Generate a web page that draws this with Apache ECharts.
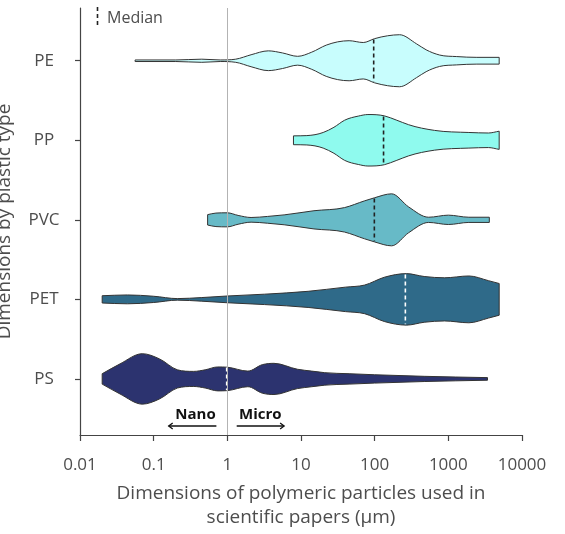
<!DOCTYPE html>
<html><head><meta charset="utf-8">
<script src="https://cdn.jsdelivr.net/npm/echarts@6/dist/echarts.min.js"></script>
<style>html,body{margin:0;padding:0;background:#fff}#c{width:565px;height:534px}</style>
</head><body><div id="c"></div>
<script>
// ---- data ----
const categories = ['PS', 'PET', 'PVC', 'PP', 'PE']; // bottom to top
const xTickValues = [0.01, 0.1, 1, 10, 100, 1000, 10000];
const xTickLabels = ['0.01', '0.1', '1', '10', '100', '1000', '10000'];

// particle size (µm) and relative density (violin half-width, max = 1)
const psSizes   = [0.02, 0.035, 0.07, 0.12, 0.21, 0.35, 0.5, 0.74, 1.0, 1.9, 3.0, 4.3, 9, 14, 21, 45, 100, 470, 3400];
const psDensity = [0.2, 0.58, 0.97, 0.77, 0.35, 0.29, 0.35, 0.46, 0.45, 0.3, 0.55, 0.6, 0.37, 0.3, 0.24, 0.2, 0.16, 0.1, 0.05];
const petSizes   = [0.02, 0.044, 0.1, 0.21, 0.45, 1.0, 3.2, 12.5, 40, 73, 135, 270, 470, 890, 1900, 3500, 4900];
const petDensity = [0.14, 0.17, 0.12, 0.03, 0.07, 0.13, 0.2, 0.31, 0.47, 0.55, 0.85, 0.99, 0.88, 0.83, 0.9, 0.72, 0.61];
const pvcSizes   = [0.54, 0.7, 1.0, 1.4, 2.1, 3.5, 5.9, 15, 39, 73, 100, 170, 288, 540, 1000, 1900, 3600];
const pvcDensity = [0.2, 0.26, 0.27, 0.17, 0.09, 0.13, 0.19, 0.35, 0.47, 0.73, 0.85, 1.0, 0.5, 0.1, 0.18, 0.1, 0.1];
const ppSizes   = [7.9, 12, 20, 28, 39, 60, 81, 135, 200, 288, 650, 1900, 3500, 4900];
const ppDensity = [0.17, 0.18, 0.3, 0.5, 0.77, 0.93, 0.99, 0.94, 0.77, 0.6, 0.38, 0.3, 0.28, 0.35];
const peSizes   = [0.056, 0.2, 0.45, 0.8, 1.3, 2.1, 3.6, 5.6, 9, 14, 22, 45, 70, 100, 150, 218, 370, 500, 760, 1300, 2440, 4900];
const peDensity = [0.03, 0.03, 0.06, 0.03, 0.06, 0.23, 0.38, 0.3, 0.17, 0.33, 0.6, 0.77, 0.7, 0.85, 0.96, 1, 0.65, 0.42, 0.22, 0.16, 0.13, 0.13];
const medians = [0.98, 261, 99, 132, 97]; // same order as categories

const allSizes = [psSizes, petSizes, pvcSizes, ppSizes, peSizes];
const allDensity = [psDensity, petDensity, pvcDensity, ppDensity, peDensity];

// ---- styles ----
const fills = ['#2c336f', '#2f6a89', '#67bac7', '#8ffaee', '#c8fdfd'];
const medianColors = ['#ffffff', '#ffffff', '#222222', '#222222', '#222222'];
const maxHalf = 0.327; // in category units
const FONT = '"Open Sans", sans-serif';
const TXT = '#4d4d4d';

function smooth(pts) {
  const n = pts.length;
  const dx = [], m = [];
  for (let i = 0; i < n - 1; i++) {
    dx[i] = pts[i + 1][0] - pts[i][0];
    m[i] = (pts[i + 1][1] - pts[i][1]) / dx[i];
  }
  const t = [];
  t[0] = m[0]; t[n - 1] = m[n - 2];
  for (let i = 1; i < n - 1; i++) {
    if (m[i - 1] * m[i] <= 0) t[i] = 0;
    else t[i] = (m[i - 1] * dx[i] + m[i] * dx[i - 1]) / (dx[i - 1] + dx[i]);
  }
  for (let i = 0; i < n - 1; i++) {
    if (m[i] === 0) { t[i] = 0; t[i + 1] = 0; continue; }
    const a = t[i] / m[i], b = t[i + 1] / m[i], s = a * a + b * b;
    if (s > 9) { const tau = 3 / Math.sqrt(s); t[i] = tau * a * m[i]; t[i + 1] = tau * b * m[i]; }
  }
  let d = '';
  for (let i = 0; i < n - 1; i++) {
    const h = dx[i] / 3;
    const [x0, y0] = pts[i], [x1, y1] = pts[i + 1];
    d += ' C' + (x0 + h) + ',' + (y0 + t[i] * h) + ' ' + (x1 - h) + ',' + (y1 - t[i + 1] * h) + ' ' + x1 + ',' + y1;
  }
  return d;
}

function densityAt(sizes, dens, v) {
  const lv = Math.log10(v);
  for (let i = 0; i < sizes.length - 1; i++) {
    const a = Math.log10(sizes[i]), b = Math.log10(sizes[i + 1]);
    if (lv >= a && lv <= b) return dens[i] + (dens[i + 1] - dens[i]) * (lv - a) / (b - a);
  }
  return 0;
}

function renderViolin(params, api) {
  const k = params.dataIndex;
  const sizes = allSizes[k], dens = allDensity[k];
  const top = [], bot = [];
  for (let i = 0; i < sizes.length; i++) {
    top.push(api.coord([sizes[i], k + dens[i] * maxHalf]));
    bot.push(api.coord([sizes[i], k - dens[i] * maxHalf]));
  }
  const botR = bot.slice().reverse();
  const path = 'M' + top[0][0] + ',' + top[0][1] + smooth(top) +
    ' L' + botR[0][0] + ',' + botR[0][1] + smooth(botR) + ' Z';
  return {
    type: 'path',
    shape: { pathData: path },
    style: { fill: fills[k], stroke: '#333', lineWidth: 1 }
  };
}

function renderMedian(params, api) {
  const k = params.dataIndex;
  const md = medians[k];
  const d = densityAt(allSizes[k], allDensity[k], md) * maxHalf * 0.97;
  const p1 = api.coord([md, k + d]), p2 = api.coord([md, k - d]);
  return {
    type: 'line',
    shape: { x1: p1[0], y1: p1[1], x2: p2[0], y2: p2[1] },
    style: { stroke: medianColors[k], lineWidth: 1.6, lineDash: [4, 3] }
  };
}

const chart = echarts.init(document.getElementById('c'), null, { renderer: 'canvas' });
const itemData = categories.map((c, i) => [1, i]);

chart.setOption({
  animation: false,
  grid: { left: 80, right: 43, top: 8, bottom: 99, outerBoundsMode: 'none', containLabel: false },
  xAxis: {
    type: 'log', logBase: 10, min: 0.01, max: 10000,
    name: 'Dimensions of polymeric particles used in\nscientific papers (µm)',
    nameLocation: 'middle', nameGap: 47,
    nameTextStyle: { fontFamily: FONT, fontSize: 19, color: TXT, lineHeight: 24 },
    axisLine: { onZero: false, lineStyle: { color: '#444', width: 1.2 } },
    axisTick: { length: 6, lineStyle: { color: '#444', width: 1.2 } },
    axisLabel: {
      margin: 22, fontFamily: FONT, fontSize: 17, color: TXT,
      formatter: v => { const i = xTickValues.findIndex(t => Math.abs(Math.log10(t) - Math.log10(v)) < 1e-6); return i >= 0 ? xTickLabels[i] : ''; }
    },
    splitLine: { show: false }
  },
  yAxis: {
    type: 'value', min: -0.705, max: 4.663,
    name: 'Dimensions by plastic type',
    nameLocation: 'middle', nameGap: 66,
    nameTextStyle: { fontFamily: FONT, fontSize: 19, color: TXT },
    axisLine: { show: true, onZero: false, lineStyle: { color: '#444', width: 1.2 } },
    axisTick: { show: true, length: 5, customValues: [0, 1, 2, 3, 4], lineStyle: { color: '#444', width: 1.2 } },
    axisLabel: {
      customValues: [0, 1, 2, 3, 4], align: 'center', margin: 36,
      fontFamily: FONT, fontSize: 17, color: TXT,
      formatter: v => categories[Math.round(v)]
    },
    splitLine: { show: false }
  },
  series: [
    { type: 'custom', name: 'violins', renderItem: renderViolin, data: itemData, z: 2, silent: true },
    {
      type: 'line', data: [], z: 3, silent: true,
      markLine: {
        silent: true, symbol: 'none', label: { show: false },
        lineStyle: { color: '#b3b3b3', width: 1, type: 'solid' },
        data: [{ xAxis: 1 }]
      }
    },
    { type: 'custom', name: 'medians', renderItem: renderMedian, data: itemData, z: 4, silent: true }
  ]
});

// annotations in data space
const annotations = [
  { text: 'Nano', at: 0.37, from: 0.71, to: 0.16 },
  { text: 'Micro', at: 2.8, from: 1.34, to: 5.9 }
];
const textRowY = -0.447, arrowRowY = -0.592;
const g = [];
annotations.forEach(a => {
  const tp = chart.convertToPixel({ gridIndex: 0 }, [a.at, textRowY]);
  const p1 = chart.convertToPixel({ gridIndex: 0 }, [a.from, arrowRowY]);
  const p2 = chart.convertToPixel({ gridIndex: 0 }, [a.to, arrowRowY]);
  g.push({ type: 'text', x: tp[0], y: tp[1], style: { text: a.text, font: 'bold 15px ' + FONT, fill: '#111', align: 'center', verticalAlign: 'middle' } });
  g.push({ type: 'line', shape: { x1: p1[0], y1: p1[1], x2: p2[0], y2: p2[1] }, style: { stroke: '#111', lineWidth: 1.3 } });
  const dir = p2[0] > p1[0] ? 1 : -1;
  g.push({ type: 'polyline', shape: { points: [[p2[0] - dir * 4, p2[1] - 3], [p2[0], p2[1]], [p2[0] - dir * 4, p2[1] + 3]] }, style: { stroke: '#111', lineWidth: 1.3, fill: null } });
});
// legend: median
g.push({ type: 'line', shape: { x1: 97.5, y1: 7, x2: 97.5, y2: 28 }, style: { stroke: '#222', lineWidth: 1.6, lineDash: [4, 3] } });
g.push({ type: 'text', x: 107, y: 18, style: { text: 'Median', font: '16px ' + FONT, fill: TXT, align: 'left', verticalAlign: 'middle' } });
chart.setOption({ graphic: g });
</script>
</body></html>
